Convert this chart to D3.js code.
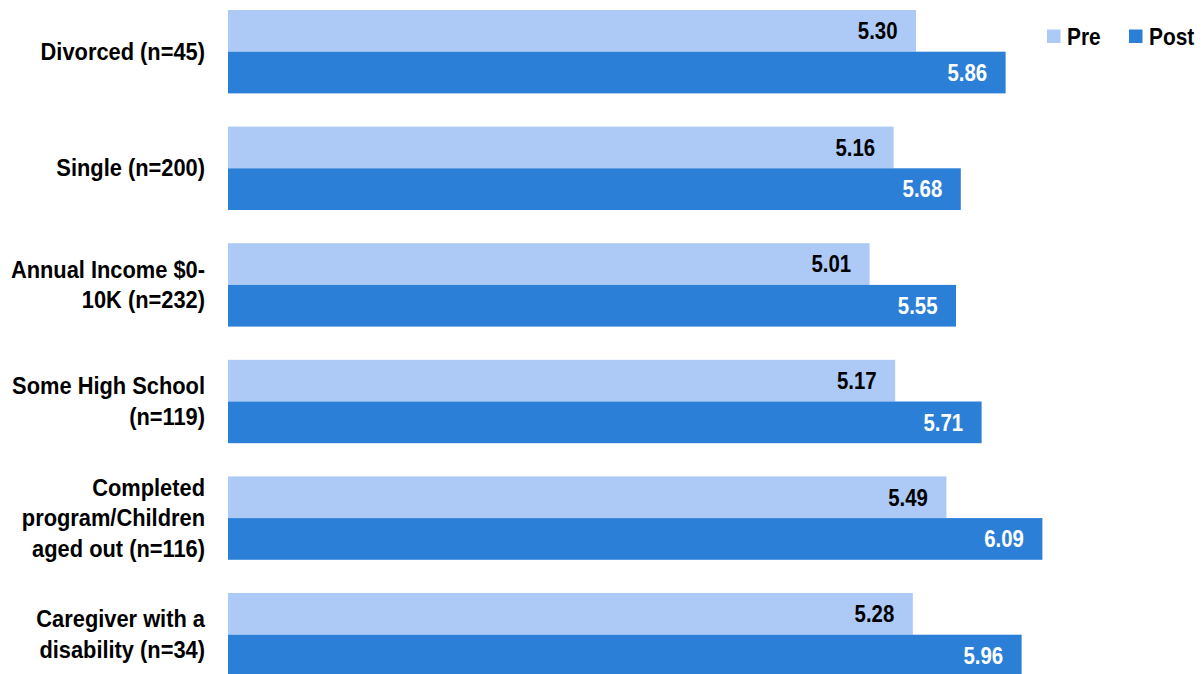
<!DOCTYPE html>
<html><head><meta charset="utf-8">
<script src="https://cdn.jsdelivr.net/npm/d3@7"></script>
<style>body{margin:0;background:#fff}svg{display:block}</style>
</head><body><svg id="c" width="1203" height="674"></svg>
<script>
const categories = [
  ["Divorced (n=45)"],
  ["Single (n=200)"],
  ["Annual Income $0-", "10K (n=232)"],
  ["Some High School", "(n=119)"],
  ["Completed", "program/Children", "aged out (n=116)"],
  ["Caregiver with a", "disability (n=34)"]
];
const preValues = [5.30, 5.16, 5.01, 5.17, 5.49, 5.28];
// bar lengths as drawn in the picture (the "Single" post bar is drawn shorter than its label)
const postValues = [5.86, 5.58, 5.55, 5.71, 6.09, 5.96];
const preLabels = ["5.30", "5.16", "5.01", "5.17", "5.49", "5.28"];
const postLabels = ["5.86", "5.68", "5.55", "5.71", "6.09", "5.96"];
const seriesNames = ["Pre", "Post"];
const colors = ["#adcaf7", "#2b7fd7"];

const font = "'Liberation Sans',Arial,sans-serif";
const svg = d3.select("#c");
const x = d3.scaleLinear().domain([1, 7]).range([228, 1188]);
const y = d3.scaleBand().domain(d3.range(categories.length)).range([-6.6, 693]).paddingInner(0.285).paddingOuter(0.1425);
const sub = d3.scaleBand().domain([0, 1]).range([0, y.bandwidth()]);

const series = [preValues, postValues];
const labels = [preLabels, postLabels];
series.forEach((vals, s) => {
  const g = svg.append("g");
  g.selectAll("rect").data(vals).join("rect")
    .attr("x", x(1)).attr("y", (d, i) => y(i) + sub(s))
    .attr("width", d => x(d) - x(1)).attr("height", sub.bandwidth())
    .attr("fill", colors[s]);
  g.selectAll("text").data(vals).join("text")
    .attr("transform", (d, i) => `translate(${x(d) - 18.5},${y(i) + sub(s) + sub.bandwidth() / 2 + 8.3}) scale(0.85,1)`)
    .attr("text-anchor", "end").attr("font-family", font).attr("font-weight", "bold")
    .attr("font-size", 24).attr("fill", s === 0 ? "#000" : "#fff")
    .text((d, i) => labels[s][i]);
});

// category labels
const lh = 30.5;
categories.forEach((lines, i) => {
  const cy = y(i) + y.bandwidth() / 2;
  const t = svg.append("text").attr("text-anchor", "end").attr("font-family", font)
    .attr("font-weight", "bold").attr("font-size", 24).attr("fill", "#000")
    .attr("transform", `translate(205,${cy}) scale(0.91,1)`);
  lines.forEach((ln, k) => {
    t.append("tspan").attr("x", 0)
      .attr("y", (k - (lines.length - 1) / 2) * lh + 8).text(ln);
  });
});

// legend
const legX = [1047, 1129];
seriesNames.forEach((n, s) => {
  svg.append("rect").attr("x", legX[s]).attr("y", 29.5).attr("width", 13.5).attr("height", 13.5).attr("fill", colors[s]);
  svg.append("text").attr("transform", `translate(${legX[s] + 20},44.5) scale(0.87,1)`).attr("font-family", font)
    .attr("font-weight", "bold").attr("font-size", 24).attr("fill", "#000").text(n);
});
</script></body></html>
